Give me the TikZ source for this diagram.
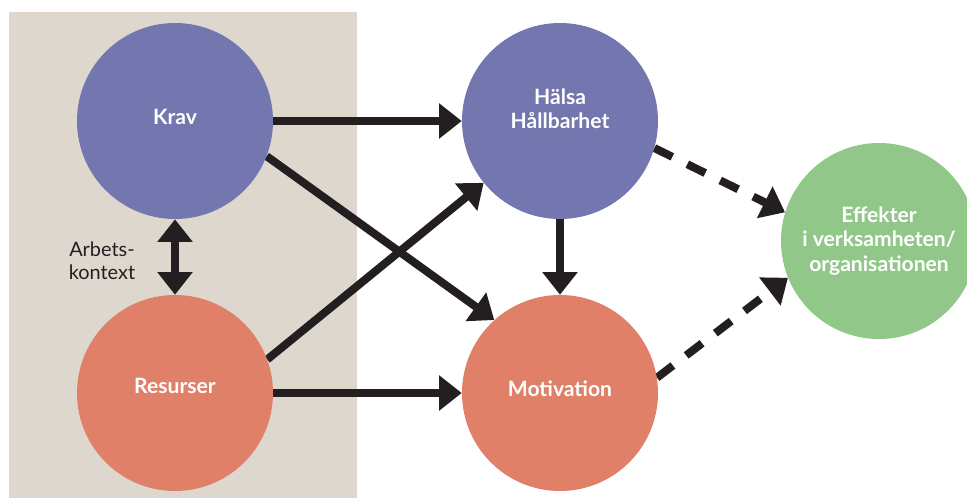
\documentclass[tikz,border=0pt]{standalone}
\usepackage{fontspec}
\setmainfont{Lato}
\usepackage{tikz}
\usetikzlibrary{arrows.meta,backgrounds}

\definecolor{kravblue}{RGB}{115,118,175}
\definecolor{resursred}{RGB}{225,128,105}
\definecolor{effektgreen}{RGB}{145,200,138}
\definecolor{bgbeige}{RGB}{221,215,206}
\definecolor{arrowblack}{RGB}{35,31,32}

\begin{document}
\begin{tikzpicture}[node distance=11.55cm]
        \tikzset{
            bignode/.style = {circle, minimum size=5.88cm, inner sep=0pt, text=white, align=center, font=\fontsize{18}{21}\selectfont\bfseries},
            arrow/.style = {line width=0.24cm, draw=arrowblack, -{Triangle[length=0.68cm, width=1.02cm]}},
            darrow/.style = {arrow, {Triangle[length=0.68cm, width=1.02cm]}-{Triangle[length=0.68cm, width=1.02cm]}},
            dasharrow/.style = {arrow, dash pattern=on 0.6cm off 0.5cm}
        }
        \useasboundingbox (-5.25,3.63) rectangle (23.76,-11.31);

        \node (krav) [bignode, fill=kravblue, text depth=0.24cm] {Krav};
        \node (halsa) [bignode, fill=kravblue, right of=krav, text depth=0.75cm] {Hälsa\\Hållbarhet};
        \node (resurser) [bignode, fill=resursred, below of=krav, yshift=3.39cm, text depth=0.42cm] {Resurser};
        \node (motivation) [bignode, fill=resursred, right of=resurser, text depth=0.24cm] {Motivation};
        \node (effekter) [bignode, fill=effektgreen, right of=halsa, xshift=-1.98cm, yshift=-3.6cm] {Effekter\\i verksamheten/\\organisationen};
        \node (kontext) [align=center, text=arrowblack, font=\fontsize{17}{20}\selectfont] at (-2.19,-4.2) {Arbets-\\kontext};

        \begin{scope}[on background layer]
            \fill [bgbeige] (-4.98,3.27) rectangle (5.46,-11.31);
            \draw [darrow] (krav) -- (resurser);
            \draw [arrow] (krav) -- (halsa);
            \draw [arrow] (resurser) -- (motivation);
            \draw [arrow] (krav.-21) -- (motivation.132);
            \draw [arrow] (resurser.20) -- (halsa.-141);
            \draw [arrow] (halsa) -- (motivation);
            \draw [dasharrow] (halsa.-16) -- (effekter.163);
            \draw [dasharrow] (motivation.9) -- (effekter.-158);
        \end{scope}

    \end{tikzpicture}
\end{document}
